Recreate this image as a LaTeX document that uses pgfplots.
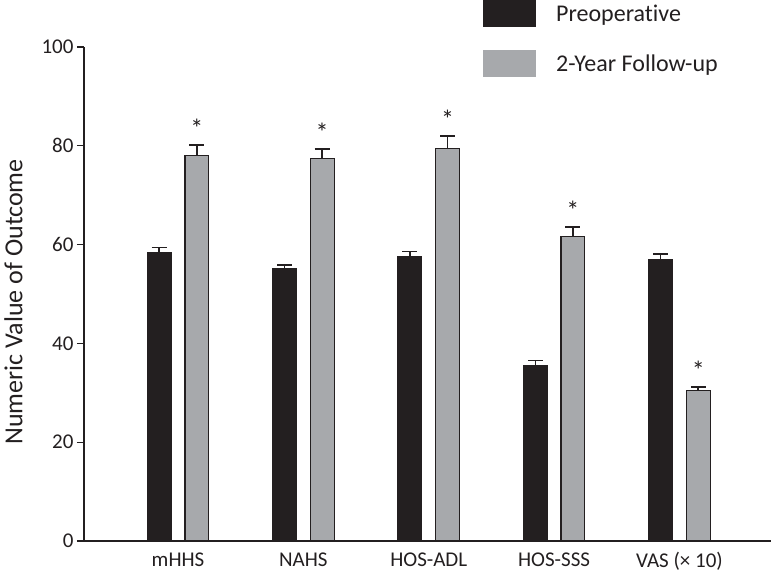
\documentclass[border=0pt]{standalone}
\usepackage{pgfplots}
\pgfplotsset{compat=1.18}
\usepackage{pgfplotstable}
\usepackage{fontspec}
\setmainfont{Carlito}[Ligatures={NoCommon,NoRequired,NoContextual}]
\usetikzlibrary{calc}
\definecolor{darkbar}{HTML}{231F20}
\definecolor{greybar}{HTML}{A7A9AC}
\definecolor{lineclr}{HTML}{231F20}

\pgfplotstableread{
x xpre xpost pre preerr post posterr star
1 0.85 1.15 58.4 1.0 78.0 2.2 80.2
2 1.85 2.15 55.1 0.8 77.5 1.9 79.4
3 2.85 3.15 57.5 1.1 79.4 2.6 82.0
4 3.85 4.15 35.6 0.9 61.6 2.0 63.6
5 4.85 5.15 57.0 1.1 30.4 0.8 31.2
}\datatable

\begin{document}
\begin{tikzpicture}
\begin{axis}[
  name=ax,
  scale only axis,
  width=687bp, height=494bp,
  xmin=0.25, xmax=5.73,
  ymin=0, ymax=100,
  axis x line=bottom, axis y line=left,
  axis line style={-, line width=1.3bp, lineclr},
  xtick={1,2,3,4,5},
  xticklabels={mHHS, NAHS, HOS-ADL, HOS-SSS, VAS (× 10)},
  xtick style={draw=none},
  ytick={0,20,40,60,80,100},
  tick align=outside,
  ytick style={line width=1.3bp, lineclr},
  major tick length=7bp,
  /pgf/number format/assume math mode=true,
  tick label style={font=\fontsize{21bp}{24bp}\selectfont, text=lineclr},
  x tick label style={yshift=-1bp},
  ylabel={Numeric Value of Outcome},
  ylabel style={font=\fontsize{26bp}{30bp}\selectfont, text=lineclr, at={(axis description cs:-0.0844,0.484)}, anchor=south},
  legend style={at={(0.581,1.095)}, anchor=north west, draw=none, fill=none,
    inner sep=0pt, outer sep=0pt, row sep=23bp,
    font=\fontsize{24bp}{28bp}\selectfont, text=lineclr,
    nodes={inner sep=0pt},
    cells={anchor=west},
    /tikz/every odd column/.append style={column sep=20bp}},
]
\addplot[ybar, bar width=0.19, bar shift=0, fill=darkbar, draw=lineclr, line width=1.2bp,
  legend image code/.code={\fill[draw=none, fill=darkbar] (0bp,-13.5bp) rectangle (53bp,13.5bp);},
  error bars/.cd, y dir=plus, y explicit,
  error bar style={line width=1.6bp, lineclr},
  error mark options={rotate=90, mark size=7.5bp, line width=1.6bp, lineclr}]
  table[x=xpre, y=pre, y error=preerr] {\datatable};
\addlegendentry{Preoperative}
\addplot[ybar, bar width=0.19, bar shift=0, fill=greybar, draw=lineclr, line width=1.2bp,
  legend image code/.code={\fill[draw=none, fill=greybar] (0bp,-13.5bp) rectangle (53bp,13.5bp);},
  error bars/.cd, y dir=plus, y explicit,
  error bar style={line width=1.6bp, lineclr},
  error mark options={rotate=90, mark size=7.5bp, line width=1.6bp, lineclr}]
  table[x=xpost, y=post, y error=posterr] {\datatable};
\addlegendentry{2-Year Follow-up}
\addplot[ybar, bar width=0.19, bar shift=0, draw=none, fill=none, forget plot,
  nodes near coords={*},
  every node near coord/.append style={anchor=base, inner sep=0pt, yshift=7bp,
    font=\fontsize{26bp}{30bp}\selectfont, text=lineclr}]
  table[x=xpost, y=star] {\datatable};
\end{axis}
\pgfresetboundingbox
\path[use as bounding box] ($(ax.south west)+(-84bp,-32bp)$) rectangle ($(ax.south west)+(687bp,541bp)$);
\end{tikzpicture}
\end{document}
